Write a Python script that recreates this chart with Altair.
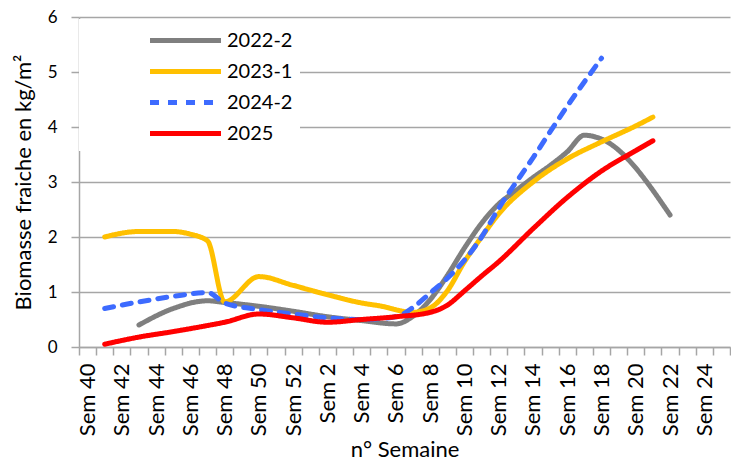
import altair as alt
import pandas as pd

weeks = [f"Sem {w}" for w in range(40, 53)] + [f"Sem {w}" for w in range(1, 26)]
even_labels = weeks[::2]

series_names = ["2022-2", "2023-1", "2024-2", "2025"]
series_colors = ["#7F7F7F", "#FFC000", "#3D6BFF", "#FF0000"]
series_dash = [[1, 0], [1, 0], [9, 9], [1, 0]]

s2022_weeks = ["Sem 43", "Sem 45", "Sem 47", "Sem 48", "Sem 50", "Sem 52", "Sem 2", "Sem 4",
               "Sem 6", "Sem 7", "Sem 8", "Sem 9", "Sem 10", "Sem 11", "Sem 12", "Sem 13",
               "Sem 14", "Sem 15", "Sem 16", "Sem 17", "Sem 18", "Sem 22"]
s2022_vals = [0.40, 0.70, 0.84, 0.81, 0.74, 0.65, 0.55, 0.48,
              0.42, 0.56, 0.86, 1.30, 1.80, 2.25, 2.60, 2.84,
              3.08, 3.30, 3.55, 3.85, 3.78, 2.40]

s2023_weeks = ["Sem 41", "Sem 43", "Sem 45", "Sem 46", "Sem 47", "Sem 48", "Sem 50", "Sem 52",
               "Sem 2", "Sem 4", "Sem 5", "Sem 7", "Sem 8", "Sem 9", "Sem 10", "Sem 11",
               "Sem 12", "Sem 14", "Sem 16", "Sem 18", "Sem 20", "Sem 21"]
s2023_vals = [2.00, 2.10, 2.10, 2.05, 1.93, 0.82, 1.28, 1.12,
              0.95, 0.80, 0.75, 0.63, 0.71, 1.02, 1.55, 2.00,
              2.42, 3.00, 3.42, 3.73, 4.02, 4.18]

s2024_weeks = ["Sem 41", "Sem 43", "Sem 45", "Sem 47", "Sem 48", "Sem 50", "Sem 52", "Sem 2",
               "Sem 4", "Sem 6", "Sem 7", "Sem 8", "Sem 9", "Sem 10", "Sem 11", "Sem 12",
               "Sem 14", "Sem 16", "Sem 18"]
s2024_vals = [0.70, 0.82, 0.92, 0.99, 0.80, 0.68, 0.60, 0.53,
              0.50, 0.55, 0.72, 0.98, 1.25, 1.58, 2.00, 2.52,
              3.44, 4.38, 5.25]

s2025_weeks = ["Sem 41", "Sem 43", "Sem 45", "Sem 47", "Sem 48", "Sem 50", "Sem 52", "Sem 2",
               "Sem 4", "Sem 6", "Sem 8", "Sem 9", "Sem 10", "Sem 11", "Sem 12", "Sem 14",
               "Sem 16", "Sem 18", "Sem 20", "Sem 21"]
s2025_vals = [0.05, 0.18, 0.28, 0.39, 0.45, 0.60, 0.53, 0.45,
              0.50, 0.55, 0.63, 0.76, 1.02, 1.29, 1.55, 2.15,
              2.72, 3.20, 3.57, 3.75]

rows = []
for name, wk, vals in [("2022-2", s2022_weeks, s2022_vals), ("2023-1", s2023_weeks, s2023_vals),
                       ("2024-2", s2024_weeks, s2024_vals), ("2025", s2025_weeks, s2025_vals)]:
    for w, v in zip(wk, vals):
        rows.append({"serie": name, "semaine": w, "biomasse": v, "ordre": weeks.index(w)})
df = pd.DataFrame(rows)

FONT = "Lato"
GRID = "#A6A6A6"

label_js = "[" + ",".join(f"'{l}'" for l in even_labels) + "]"

chart = alt.Chart(df).mark_line(
    interpolate="monotone", strokeWidth=5, strokeCap="round", strokeJoin="round"
).encode(
    x=alt.X("semaine:N", sort=weeks, scale=alt.Scale(domain=weeks, paddingInner=0, paddingOuter=0),
            axis=alt.Axis(title="n° Semaine", labelAngle=270, tickBand="extent",
                          labelExpr=f"indexof({label_js}, datum.value) >= 0 ? datum.label : ''",
                          labelFontSize=22, labelPadding=8, tickSize=8, titlePadding=4,
                          titleFontSize=22, grid=False)),
    y=alt.Y("biomasse:Q", scale=alt.Scale(domain=[0, 6], nice=False),
            axis=alt.Axis(title="Biomasse fraiche en kg/m²", values=[0, 1, 2, 3, 4, 5, 6],
                          labelFontSize=17, labelPadding=14, tickSize=8, titlePadding=12,
                          titleFontSize=22, grid=True)),
    color=alt.Color("serie:N", scale=alt.Scale(domain=series_names, range=series_colors), title=None),
    strokeDash=alt.StrokeDash("serie:N", scale=alt.Scale(domain=series_names, range=series_dash), title=None),
    order=alt.Order("ordre:Q"),
).properties(
    width=651, height=330,
    autosize="none",
    padding={"left": 71, "top": 9, "right": 1, "bottom": 114},
).configure(
    font=FONT,
).configure_view(
    stroke=None,
).configure_axis(
    domainColor=GRID, domainWidth=1.5, tickColor=GRID, tickWidth=1.5,
    gridColor=GRID, gridWidth=1.5, labelColor="black", titleColor="black",
    labelFont=FONT, titleFont=FONT, titleFontWeight="normal",
).configure_legend(
    orient="none", legendX=0, legendY=2, fillColor="white", padding=7,
    symbolType="M-3,0H3", symbolSize=560, symbolStrokeWidth=5, symbolOffset=85,
    labelFontSize=20, labelFont=FONT, labelColor="black", labelOffset=27, rowPadding=6,
)

chart.save("out.html", embed_options={"renderer": "svg", "actions": False})
